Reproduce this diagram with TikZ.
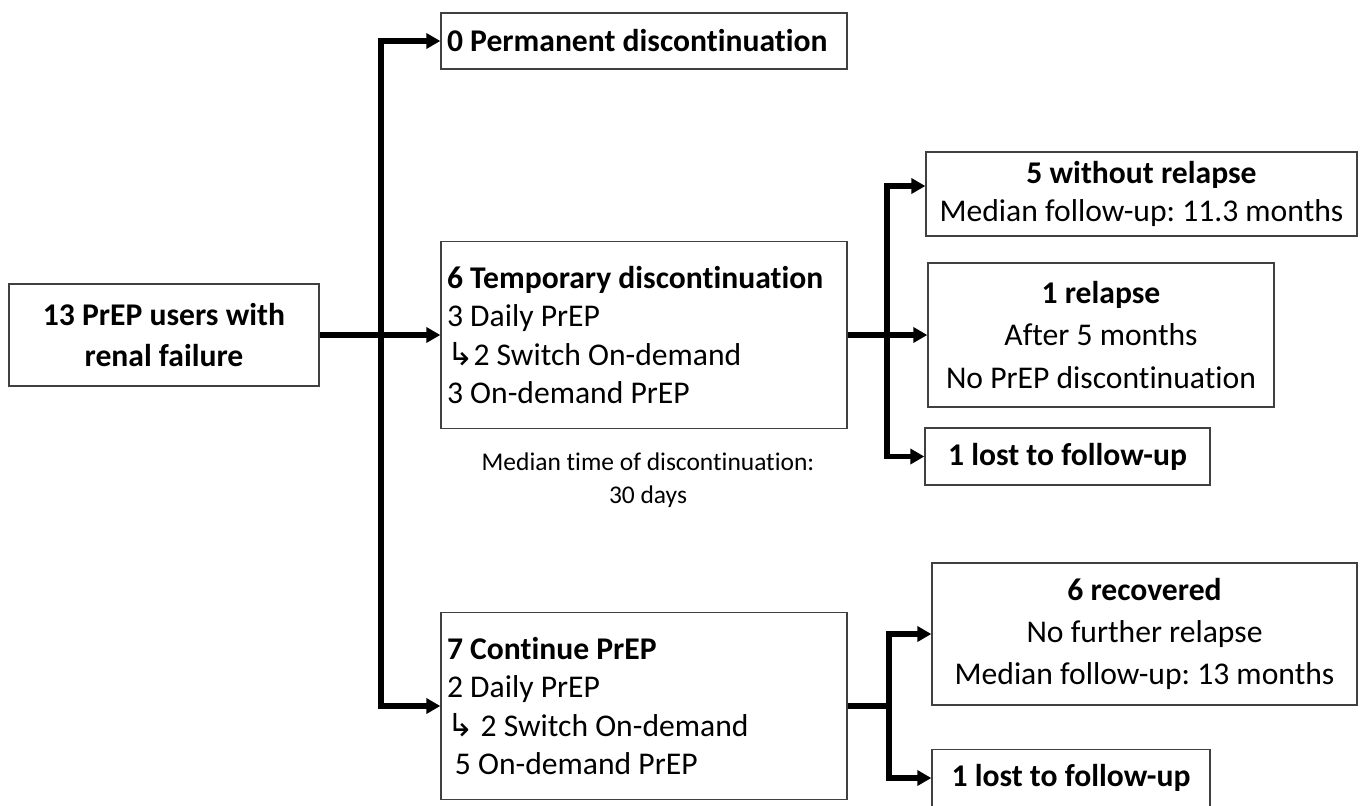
\documentclass[tikz,border=0pt]{standalone}
\usepackage{fontspec}
\setmainfont{Carlito}[Ligatures=NoCommon]
\newfontfamily\arrowfont{DejaVu Sans}
\usetikzlibrary{arrows.meta}
\frenchspacing

\tikzset{
  box/.style={draw=black!75, line width=0.8pt, inner sep=0pt, align=center},
  leftbox/.style={box, align=flush left, inner xsep=0.12cm},
  txt/.style={font=\fontsize{18}{22}\selectfont},
  wide/.style={font=\fontsize{18}{24}\selectfont},
  bold/.style={font=\bfseries\fontsize{18}{22}\selectfont},
  flow/.style={line width=3pt},
  flowarr/.style={flow, -{Triangle[length=0.28cm,width=0.3cm]}},
}

\begin{document}
\begin{tikzpicture}[x=0.02cm, y=-0.02cm]
            \useasboundingbox (0,0) rectangle (1362,805);
            \node[box, minimum width=6.2cm, minimum height=2.04cm, font=\bfseries\fontsize{18}{23}\selectfont] (users) at (164,335) {13 PrEP users with\\renal failure};
            \node[leftbox, bold, text width=7.88cm, minimum height=1.12cm] (perm) at (644,41) {0 Permanent discontinuation};
            \node[leftbox, txt, text width=7.88cm, minimum height=3.74cm] (temp) at (644,335) {\textbf{6 Temporary discontinuation}\\3 Daily PrEP\\{\arrowfont ↳}2 Switch On-demand\\3 On-demand PrEP};
            \node[align=center, font=\fontsize{14.5}{18.5}\selectfont] (median) at (648,480) {Median time of discontinuation:\\30 days};
            \node[leftbox, txt, text width=7.88cm, minimum height=3.74cm] (cont) at (644,706) {\textbf{7 Continue PrEP}\\2 Daily PrEP\\{\arrowfont ↳} 2 Switch On-demand\\\hspace{0.25em}5 On-demand PrEP};
            \node[box, txt, minimum width=8.62cm, minimum height=1.68cm] (norelapse) at (1141.5,194) {\textbf{5 without relapse}\\Median follow-up: 11.3 months};
            \node[box, wide, minimum width=6.92cm, minimum height=2.88cm] (relapse) at (1101,335) {\textbf{1 relapse}\\After 5 months\\No PrEP discontinuation};
            \node[box, bold, minimum width=5.7cm, minimum height=1.14cm] (lostA) at (1067.5,456.5) {1 lost to follow-up};
            \node[box, wide, minimum width=8.5cm, minimum height=2.84cm] (recovered) at (1144.5,634) {\textbf{6 recovered}\\No further relapse\\Median follow-up: 13 months};
            \node[box, bold, minimum width=5.56cm, minimum height=1.14cm] (lostB) at (1071,778) {1 lost to follow-up};
            \coordinate (split1) at (381,335);
            \coordinate (split2) at (887,335);
            \coordinate (split3) at (889,706);
            \draw[flowarr] (users.east) -- (temp.west);
            \draw[flowarr] (split1) |- (perm.west);
            \draw[flowarr] (split1) |- (cont.west);
            \draw[flow] (temp.east) -- (split2);
            \draw[flowarr] (split2) |- ([yshift=0.16cm]norelapse.west);
            \draw[flowarr] (split2) -- (relapse.west);
            \draw[flowarr] (split2) |- (lostA.west);
            \draw[flow] (cont.east) -- (split3);
            \draw[flowarr] (split3) |- (recovered.west);
            \draw[flowarr] (split3) |- (lostB.west);
\end{tikzpicture}
\end{document}
